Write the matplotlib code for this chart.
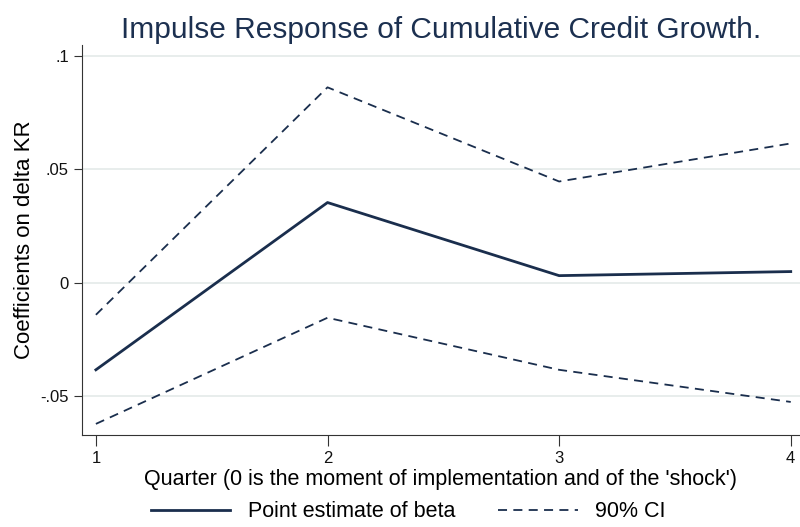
import matplotlib
matplotlib.use("Agg")
import matplotlib.pyplot as plt

plt.rcParams["font.family"] = ["Liberation Sans", "DejaVu Sans"]

quarters = [1, 2, 3, 4]
beta = [-0.0385, 0.0354, 0.0031, 0.0049]
ci_upper = [-0.0142, 0.0863, 0.0447, 0.0615]
ci_lower = [-0.0624, -0.0155, -0.0385, -0.0527]

yticks = [-0.05, 0, 0.05, 0.1]
ytick_labels = ["-.05", "0", ".05", ".1"]

navy = "#1a2e4d"

fig = plt.figure(figsize=(8, 5.27), dpi=100)
ax = fig.add_axes([0.1025, 0.1746, 0.8975, 0.74])

ax.plot(quarters, beta, color=navy, lw=2.0, label="Point estimate of beta")
ax.plot(quarters, ci_upper, color=navy, lw=1.3, ls=(0, (5, 3.5)), label="90% CI")
ax.plot(quarters, ci_lower, color=navy, lw=1.3, ls=(0, (5, 3.5)))

ax.set_xlim(0.94, 4.04)
ax.set_ylim(-0.0673, 0.105)
ax.set_xticks(quarters)
ax.set_yticks(yticks)
ax.set_yticklabels(ytick_labels)
ax.tick_params(axis="y", length=6, labelsize=12, colors="#333333", labelcolor="#111111")
ax.tick_params(axis="x", length=8, labelsize=12, colors="#333333", labelcolor="#111111")
ax.grid(axis="y", color="#e4eae9", lw=1.2)
ax.set_axisbelow(True)
for s in ["top", "right"]:
    ax.spines[s].set_visible(False)
for s in ["left", "bottom"]:
    ax.spines[s].set_color("#333333")

ax.set_title("Impulse Response of Cumulative Credit Growth.", fontsize=21.5, color="#1c3050", pad=5)
ax.set_ylabel("Coefficients on delta KR", fontsize=16, labelpad=3.5)
ax.set_xlabel("Quarter (0 is the moment of implementation and of the 'shock')", fontsize=15.5, labelpad=2)

fig.legend(loc="lower center", bbox_to_anchor=(0.51, -0.028), ncol=2, frameon=False,
           fontsize=15.5, handlelength=3.7, columnspacing=2.0)

fig.savefig("out.png", dpi=100)
